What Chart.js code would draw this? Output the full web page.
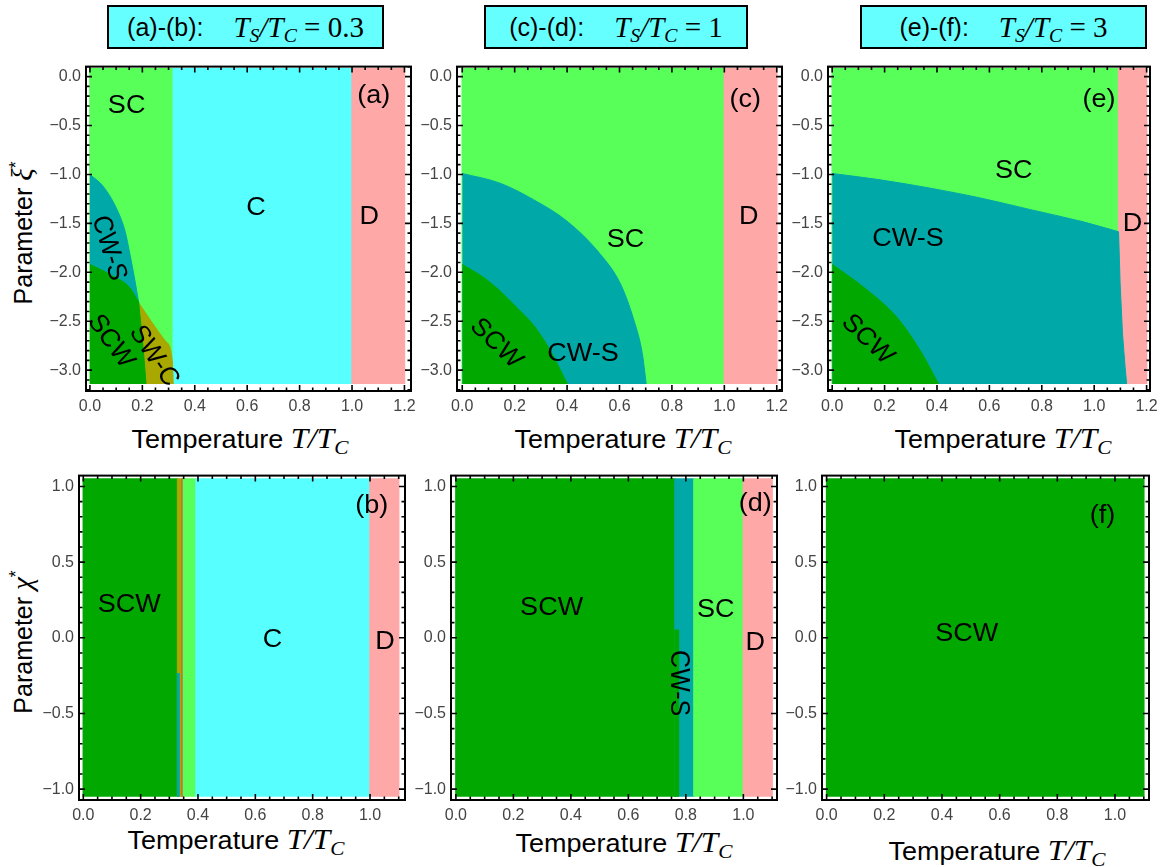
<!DOCTYPE html>
<html>
<head>
<meta charset="utf-8">
<script src="https://cdn.jsdelivr.net/npm/chart.js@4.4.1/dist/chart.umd.min.js"></script>
<style>
  html, body { margin: 0; padding: 0; background: #fff; }
  body { width: 1162px; height: 867px; position: relative; overflow: hidden; font-family: "Liberation Sans", Arial, sans-serif; color: #000; }
  canvas.panel { position: absolute; }
  .hdr { position: absolute; top: 5px; height: 44px; box-sizing: border-box; border: 2px solid #000; background: #66ffff;
         display: flex; align-items: center; justify-content: center; font-size: 25px; white-space: nowrap; }
  .m { font-family: "Liberation Serif", serif; font-style: italic; font-size: 29px; }
  .r { font-family: "Liberation Serif", serif; font-size: 29px; }
  .m sub { font-size: 0.68em; vertical-align: baseline; position: relative; top: 0.28em; }
  .xt { position: absolute; font-size: 25px; line-height: 30px; white-space: nowrap; transform: translateX(-50%) scaleX(1.08); }
  .yt { position: absolute; font-size: 25px; line-height: 30px; white-space: nowrap; transform: translate(-50%, -50%) rotate(-90deg); }
  .yt sup { font-size: 0.7em; vertical-align: baseline; position: relative; top: -0.55em; font-style: normal; }
</style>
</head>
<body>

<div class="hdr" style="left:107px;width:277px;"><span>(a)-(b):</span><span class="m" style="margin-left:30px">T<sub>S</sub>/T<sub>C</sub></span><span class="r">&nbsp;=&nbsp;0.3</span></div>
<div class="hdr" style="left:484px;width:264px;"><span>(c)-(d):</span><span class="m" style="margin-left:30px">T<sub>S</sub>/T<sub>C</sub></span><span class="r">&nbsp;=&nbsp;1</span></div>
<div class="hdr" style="left:860px;width:287px;"><span>(e)-(f):</span><span class="m" style="margin-left:30px">T<sub>S</sub>/T<sub>C</sub></span><span class="r">&nbsp;=&nbsp;3</span></div>

<div class="xt" style="left:240px;top:423px;">Temperature <span class="m">T</span><span class="m">/T<sub>C</sub></span></div>
<div class="xt" style="left:623px;top:423px;">Temperature <span class="m">T</span><span class="m">/T<sub>C</sub></span></div>
<div class="xt" style="left:1003px;top:423px;">Temperature <span class="m">T</span><span class="m">/T<sub>C</sub></span></div>
<div class="xt" style="left:236px;top:824px;">Temperature <span class="m">T</span><span class="m">/T<sub>C</sub></span></div>
<div class="xt" style="left:624px;top:827px;">Temperature <span class="m">T</span><span class="m">/T<sub>C</sub></span></div>
<div class="xt" style="left:997px;top:835px;">Temperature <span class="m">T</span><span class="m">/T<sub>C</sub></span></div>

<div class="yt" style="left:24px;top:233px;">Parameter <span class="m">ξ</span><sup>*</sup></div>
<div class="yt" style="left:24px;top:642px;">Parameter <span class="m">χ</span><sup>*</sup></div>

<script>
// value range of the computed maps
const xiMax = 0.08, xiMin = -3.1416;
const chiMax = 1.05, chiMin = -1.05;

// tick labels
const xTicksXi = [0, 0.2, 0.4, 0.6, 0.8, 1.0, 1.2];
const yTicksXi = [0, -0.5, -1.0, -1.5, -2.0, -2.5, -3.0];
const xTicksChi = [0, 0.2, 0.4, 0.6, 0.8, 1.0];
const yTicksChi = [1.0, 0.5, 0, -0.5, -1.0];

// (a) Ts/Tc = 0.3, map over xi*  -- [T/Tc, xi*]
const a_SC = [[0, xiMax], [0.318, xiMax]];
const a_C = [[0.318, xiMax], [1.0, xiMax]];
const a_D = [[1.0, xiMax], [1.2, xiMax]];
const a_CWS = [[0, -1.0], [0.05, -1.12], [0.1, -1.34], [0.134, -1.58], [0.153, -1.82], [0.172, -2.09], [0.186, -2.31]];
const a_SWC = [[0.186, -2.31], [0.236, -2.51], [0.287, -2.70], [0.314, -2.90], [0.318, xiMin]];
const a_SCW = [[0, -1.92], [0.089, -2.04], [0.153, -2.16], [0.186, -2.31]];
const a_SCW_edge = [[0.153, -2.16], [0.186, -2.31], [0.198, -2.63], [0.207, -2.90], [0.214, xiMin]];

// (c) Ts/Tc = 1
const c_SC = [[0, xiMax], [1.0, xiMax]];
const c_D = [[1.0, xiMax], [1.2, xiMax]];
const c_CWS = [[0, -0.99], [0.144, -1.089], [0.272, -1.258], [0.40, -1.478], [0.527, -1.816], [0.604, -2.12], [0.655, -2.49], [0.687, -2.83], [0.702, xiMin]];
const c_SCW = [[0, -1.92], [0.080, -2.05], [0.144, -2.19], [0.208, -2.36], [0.272, -2.54], [0.336, -2.80], [0.401, xiMin]];

// (e) Ts/Tc = 3
const e_SC = [[0, xiMax], [1.093, xiMax]];
const e_D = [[1.093, xiMax], [1.2, xiMax]];
const e_CWS = [[0, -0.99], [0.183, -1.055], [0.374, -1.14], [0.565, -1.24], [0.757, -1.36], [0.948, -1.478], [1.093, -1.587]];
const e_CWS_edge = [[0.948, -1.478], [1.093, -1.587], [1.099, -2.12], [1.108, -2.63], [1.118, -2.97], [1.124, xiMin]];
const e_SCW = [[0, -1.92], [0.119, -2.15], [0.247, -2.46], [0.336, -2.80], [0.406, xiMin]];

// (b) Ts/Tc = 0.3, map over chi*
const b_SCW = [[0, chiMax], [0.329, chiMax]];
const b_SWC = [[0.329, chiMax], [0.345, chiMax]];
const b_CWS = [[0.329, -0.237], [0.334, -0.237]];
const b_edge = [[0.345, chiMax], [0.349, chiMax]];
const b_SC = [[0.349, chiMax], [0.393, chiMax]];
const b_C = [[0.393, chiMax], [1.0, chiMax]];
const b_D = [[1.0, chiMax], [1.1, chiMax]];

// (d) Ts/Tc = 1
const d_SCW = [[0, chiMax], [0.762, chiMax]];
const d_CWS = [[0.762, chiMax], [0.828, chiMax]];
const d_SCW_low = [[0.762, 0.05], [0.774, 0.05]];
const d_SC = [[0.828, chiMax], [1.0, chiMax]];
const d_D = [[1.0, chiMax], [1.1, chiMax]];

// (f) Ts/Tc = 3
const f_SCW = [[0, chiMax], [1.1, chiMax]];

const phaseColor = {
  "SC": "#58ff58", "C": "#58ffff", "D": "#ffa8a8", "CW-S": "#00a8a8",
  "SCW": "#00a800", "SW-C": "#a8a800", "edge": "#dc4e48"
};

// region names inside the maps
const a_labels = [
  { text: "SC", x: 0.14, y: -0.29 }, { text: "C", x: 0.634, y: -1.33 }, { text: "D", x: 1.066, y: -1.43 },
  { text: "(a)", x: 1.083, y: -0.19 }, { text: "CW-S", x: 0.076, y: -1.75, rot: 75 },
  { text: "SCW", x: 0.083, y: -2.70, rot: 56 }, { text: "SW-C", x: 0.248, y: -2.85, rot: 58 }
];
const c_labels = [
  { text: "SC", x: 0.623, y: -1.66 }, { text: "D", x: 1.093, y: -1.43 }, { text: "(c)", x: 1.08, y: -0.23 },
  { text: "CW-S", x: 0.461, y: -2.83 }, { text: "SCW", x: 0.132, y: -2.72, rot: 46 }
];
const e_labels = [
  { text: "SC", x: 0.693, y: -0.96 }, { text: "D", x: 1.146, y: -1.50 }, { text: "(e)", x: 1.018, y: -0.23 },
  { text: "CW-S", x: 0.289, y: -1.65 }, { text: "SCW", x: 0.138, y: -2.68, rot: 46 }
];
const b_labels = [
  { text: "SCW", x: 0.16, y: 0.22 }, { text: "C", x: 0.66, y: -0.01 }, { text: "D", x: 1.052, y: -0.02 },
  { text: "(b)", x: 1.006, y: 0.88 }
];
const d_labels = [
  { text: "SCW", x: 0.333, y: 0.20 }, { text: "SC", x: 0.904, y: 0.19 }, { text: "D", x: 1.041, y: -0.03 },
  { text: "(d)", x: 1.041, y: 0.89 }, { text: "CW-S", x: 0.777, y: -0.30, rot: 90 }
];
const f_labels = [
  { text: "SCW", x: 0.486, y: 0.03 }, { text: "(f)", x: 0.957, y: 0.81 }
];

const fmtTick = (v) => (Math.abs(v) < 1e-9 ? "0.0" : v.toFixed(1)).replace("-", "\u2212");

function labelPlugin(items) {
  return {
    id: "phaseLabels",
    afterDatasetsDraw(chart) {
      const { ctx, scales } = chart;
      ctx.save();
      ctx.fillStyle = "#000";
      ctx.font = '25px "Liberation Sans", Arial, sans-serif';
      ctx.textAlign = "center";
      ctx.textBaseline = "middle";
      for (const it of items) {
        ctx.save();
        ctx.translate(scales.x.getPixelForValue(it.x), scales.y.getPixelForValue(it.y));
        ctx.scale(1.08, 1);
        ctx.rotate((it.rot || 0) * Math.PI / 180);
        ctx.fillText(it.text, 0, 1);
        ctx.restore();
      }
      ctx.restore();
    }
  };
}

function eachTick(scale, step, major, fn) {
  const k0 = Math.ceil(scale.min / step - 1e-9), k1 = Math.floor(scale.max / step + 1e-9);
  for (let k = k0; k <= k1; k++) {
    const r = (k * step) / major;
    fn(scale.getPixelForValue(k * step), Math.abs(r - Math.round(r)) < 1e-6);
  }
}

function framePlugin(xStep, xMajor, yStep, yMajor) {
  return {
    id: "frameTicks",
    afterDraw(chart) {
      const { ctx, chartArea: ca, scales } = chart;
      ctx.save();
      ctx.strokeStyle = "#000";
      ctx.lineWidth = 2;
      ctx.strokeRect(ca.left, ca.top, ca.right - ca.left, ca.bottom - ca.top);
      ctx.lineWidth = 1.6;
      ctx.beginPath();
      eachTick(scales.x, xStep, xMajor, (p, big) => {
        const l = big ? 6 : 3.5;
        ctx.moveTo(p, ca.bottom); ctx.lineTo(p, ca.bottom - l);
        ctx.moveTo(p, ca.top); ctx.lineTo(p, ca.top + l);
      });
      eachTick(scales.y, yStep, yMajor, (p, big) => {
        const l = big ? 6 : 3.5;
        ctx.moveTo(ca.left, p); ctx.lineTo(ca.left + l, p);
        ctx.moveTo(ca.right, p); ctx.lineTo(ca.right - l, p);
      });
      ctx.stroke();
      ctx.restore();
    }
  };
}

const PAD_L = 80, PAD_T = 12, PAD_R = 25, PAD_B = 35;

// kind: 0 = rectangle given by its top edge, 1 = smooth boundary, 2 = polyline boundary
function regionDataset([pts, phase, kind], i, base) {
  let path = pts;
  if (!kind) path = [[pts[0][0], base], ...pts, [pts[pts.length - 1][0], base]];
  return {
    data: path.map(([x, y]) => ({ x, y })),
    backgroundColor: phaseColor[phase],
    borderColor: phaseColor[phase],
    borderWidth: kind ? 1 : 1.5,
    pointRadius: 0,
    pointHoverRadius: 0,
    fill: { value: base },
    cubicInterpolationMode: kind === 1 ? "monotone" : "default",
    tension: 0,
    order: -i
  };
}

function makePanel(p) {
  const [L, T, R, B] = p.box;
  const cv = document.createElement("canvas");
  cv.className = "panel";
  const w = R - L + PAD_L + PAD_R, h = B - T + PAD_T + PAD_B;
  cv.width = w; cv.height = h;
  cv.style.left = (L - PAD_L) + "px";
  cv.style.top = (T - PAD_T) + "px";
  cv.style.width = w + "px"; cv.style.height = h + "px";
  document.body.appendChild(cv);

  const datasets = p.regions.map((r, i) => regionDataset(r, i, p.base));
  const tickFont = { family: '"Liberation Sans", Arial, sans-serif', size: 16 };
  new Chart(cv, {
    type: "line",
    data: { datasets },
    options: {
      responsive: false,
      animation: false,
      devicePixelRatio: 1,
      events: [],
      layout: { padding: { left: 0, top: PAD_T, right: PAD_R, bottom: 0 } },
      plugins: { legend: { display: false }, tooltip: { enabled: false } },
      scales: {
        x: {
          type: "linear", min: p.xr[0], max: p.xr[1],
          grid: { display: false, drawTicks: false }, border: { display: false },
          ticks: { font: tickFont, color: "#444", padding: 6, maxRotation: 0, autoSkip: false, callback: fmtTick },
          afterBuildTicks: (s) => { s.ticks = p.xt.map((v) => ({ value: v })); },
          afterFit: (s) => { s.height = PAD_B; }
        },
        y: {
          type: "linear", min: p.yr[0], max: p.yr[1],
          grid: { display: false, drawTicks: false }, border: { display: false },
          ticks: { font: tickFont, color: "#444", padding: 5, autoSkip: false, callback: fmtTick },
          afterBuildTicks: (s) => { s.ticks = p.yt.map((v) => ({ value: v })); },
          afterFit: (s) => { s.width = PAD_L; }
        }
      }
    },
    plugins: [labelPlugin(p.labels), framePlugin(0.05, 0.2, 0.1, 0.5)]
  });
}

const panels = [
  { box: [86, 64, 411, 391], xr: [-0.015, 1.225], yr: [-3.213, 0.102], xt: xTicksXi, yt: yTicksXi, base: xiMin,
    regions: [[a_SC, "SC"], [a_C, "C"], [a_D, "D"], [a_CWS, "CW-S", 1], [a_SWC, "SW-C", 1], [a_SCW, "SCW", 1], [a_SCW_edge, "SCW", 2]],
    labels: a_labels },
  { box: [457, 64, 782, 391], xr: [-0.02, 1.22], yr: [-3.213, 0.102], xt: xTicksXi, yt: yTicksXi, base: xiMin,
    regions: [[c_SC, "SC"], [c_D, "D"], [c_CWS, "CW-S", 1], [c_SCW, "SCW", 1]],
    labels: c_labels },
  { box: [828, 64, 1150, 391], xr: [-0.016, 1.213], yr: [-3.213, 0.102], xt: xTicksXi, yt: yTicksXi, base: xiMin,
    regions: [[e_SC, "SC"], [e_D, "D"], [e_CWS, "CW-S", 1], [e_CWS_edge, "CW-S", 2], [e_SCW, "SCW", 1]],
    labels: e_labels },
  { box: [79, 473, 405, 800], xr: [-0.015, 1.122], yr: [-1.072, 1.072], xt: xTicksChi, yt: yTicksChi, base: chiMin,
    regions: [[b_SCW, "SCW"], [b_SWC, "SW-C"], [b_CWS, "CW-S"], [b_edge, "edge"], [b_SC, "SC"], [b_C, "C"], [b_D, "D"]],
    labels: b_labels },
  { box: [451, 473, 777, 800], xr: [-0.017, 1.117], yr: [-1.072, 1.072], xt: xTicksChi, yt: yTicksChi, base: chiMin,
    regions: [[d_SCW, "SCW"], [d_CWS, "CW-S"], [d_SCW_low, "SCW"], [d_SC, "SC"], [d_D, "D"]],
    labels: d_labels },
  { box: [822, 473, 1149, 800], xr: [-0.016, 1.118], yr: [-1.072, 1.072], xt: xTicksChi, yt: yTicksChi, base: chiMin,
    regions: [[f_SCW, "SCW"]],
    labels: f_labels }
];

panels.forEach(makePanel);
</script>
</body>
</html>
